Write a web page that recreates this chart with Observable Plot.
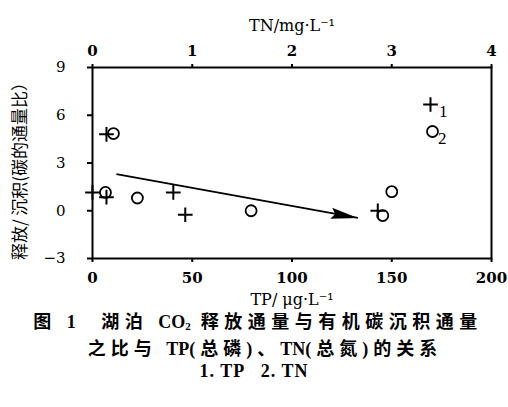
<!DOCTYPE html>
<html><head><meta charset="utf-8">
<script src="https://cdn.jsdelivr.net/npm/d3@7"></script>
<script src="https://cdn.jsdelivr.net/npm/@observablehq/plot@0.6"></script>
<style>
body{margin:0;background:#fff;width:508px;height:407px;overflow:hidden;position:relative}
#cap{position:absolute;left:0;top:310px;width:508px;text-align:center;color:#000;
 font-family:"Liberation Serif","Noto Sans CJK SC",serif;font-weight:bold}
#cap .l1,#cap .l2{font-size:18px;line-height:24px;letter-spacing:5.5px;white-space:pre}
#cap .l1{padding-left:8px}
#cap .l2{letter-spacing:5px;padding-left:22px;line-height:23px}
#cap .l3{font-size:18px;line-height:22px;letter-spacing:1px;white-space:pre;margin-top:-1px}
#cap .lat{letter-spacing:0;font-size:18px}
#cap sub{font-size:11px;vertical-align:-2px;letter-spacing:0}
</style></head><body>
<div id="chart"></div>
<div id="cap">
<div class="l1">图 1  湖泊 <span class="lat">CO</span><sub>2</sub> 释放通量与有机碳沉积通量</div>
<div class="l2">之比与 <span class="lat">TP</span>(总磷)、<span class="lat">TN</span>(总氮)的关系</div>
<div class="l3">1. TP   2. TN</div>
</div>
<script>
// Series 1: TP (µg/L) vs ratio
const tpValues = [0, 7, 7, 40.5, 46.5, 143];
const tpRatios = [1.15, 4.8, 0.85, 1.15, -0.25, 0.0];
// Series 2: TN (mg/L) vs ratio
const tnValues = [0.13, 0.21, 0.45, 1.59, 2.91, 3.0];
const tnRatios = [1.15, 4.85, 0.8, 0.0, -0.3, 1.2];
// Axis ticks
const tpTicks = [0, 50, 100, 150, 200];
const tnTicks = [0, 1, 2, 3, 4];
const yTicks = [-3, 0, 3, 6, 9];
// Trend arrow (TP units, ratio)
const trendStart = [12, 2.3];
const trendEnd = [133, -0.45];
const seriesLabels = ["1", "2"];

const tnToTp = tpTicks[tpTicks.length - 1] / tnTicks[tnTicks.length - 1];
const trend = [{x1: trendStart[0], y1: trendStart[1], x2: trendEnd[0], y2: trendEnd[1]}];

const arrowHead = {
  draw(ctx) {
    ctx.moveTo(0, 0);
    ctx.lineTo(-27, -5.5);
    ctx.lineTo(-23, 0);
    ctx.lineTo(-27, 5.5);
    ctx.closePath();
  }
};

const chart = Plot.plot({
  width: 508, height: 310,
  marginLeft: 92, marginRight: 17, marginTop: 67, marginBottom: 52,
  x: {domain: [tpTicks[0], tpTicks[tpTicks.length - 1]]},
  y: {domain: [yTicks[0], yTicks[yTicks.length - 1]]},
  style: {fontFamily: "DejaVu Serif", fontSize: "15px", fontWeight: "bold", background: "white", color: "black"},
  marks: [
    Plot.axisX({anchor: "bottom", ticks: tpTicks, tickSize: 4, tickPadding: 10, label: null, strokeWidth: 2}),
    Plot.axisX({anchor: "top", ticks: tnTicks.map(d => d * tnToTp), tickFormat: d => d / tnToTp, tickSize: 4, tickPadding: 8, label: null, strokeWidth: 2}),
    Plot.axisY({anchor: "left", ticks: yTicks, tickSize: 5, tickPadding: 22, label: null, strokeWidth: 2, fontWeight: "normal"}),
    Plot.frame({stroke: "black", strokeWidth: 2}),
    Plot.text(["TP/ μg·L⁻¹"], {text: d => d, frameAnchor: "bottom", lineAnchor: "middle", dy: 41, fontSize: 16, fontWeight: "normal", fontFamily: "DejaVu Serif"}),
    Plot.text(["TN/mg·L⁻¹"], {text: d => d, frameAnchor: "top", lineAnchor: "middle", dy: -42, fontSize: 16, fontWeight: "normal", fontFamily: "DejaVu Serif"}),
    Plot.text(["释放/ 沉积(碳的通量比）"], {text: d => d, frameAnchor: "left", textAnchor: "middle", rotate: -90, dx: -72, dy: 4, fontSize: 17, fontWeight: "normal", fontFamily: "Noto Sans CJK SC"}),
    Plot.link(trend, {x1: "x1", y1: "y1", x2: "x2", y2: "y2", stroke: "black", strokeWidth: 1.7}),
    Plot.dot(trend, {x: "x2", y: "y2", symbol: arrowHead, r: 5, rotate: 10, fill: "black", stroke: "none"}),
    Plot.dot(tpValues, {x: tpValues, y: tpRatios, symbol: "plus", r: 4.8, stroke: "black", strokeWidth: 2}),
    Plot.dot(tnValues, {x: tnValues.map(v => v * tnToTp), y: tnRatios, symbol: "circle", r: 5.5, stroke: "black", strokeWidth: 1.8, fill: "none"}),
    Plot.dot([seriesLabels[0]], {frameAnchor: "top-right", dx: -61, dy: 37, symbol: "plus", r: 4.8, stroke: "black", strokeWidth: 2}),
    Plot.dot([seriesLabels[1]], {frameAnchor: "top-right", dx: -59, dy: 64, symbol: "circle", r: 5.5, stroke: "black", strokeWidth: 1.8, fill: "none"}),
    Plot.text([seriesLabels[0]], {text: d => d, frameAnchor: "top-right", dx: -44, dy: 37, fontSize: 17, fontWeight: "normal", fontFamily: "Liberation Serif"}),
    Plot.text([seriesLabels[1]], {text: d => d, frameAnchor: "top-right", dx: -45, dy: 64, fontSize: 17, fontWeight: "normal", fontFamily: "Liberation Serif"})
  ]
});
document.getElementById("chart").appendChild(chart);
</script>
</body></html>
